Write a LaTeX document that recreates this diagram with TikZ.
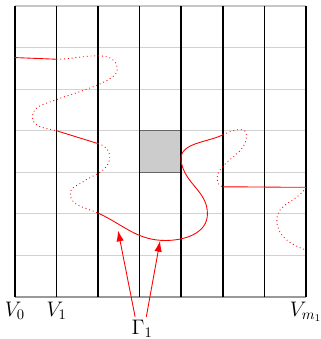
\documentclass[tikz,border=0pt]{standalone}
\usepackage{amsmath}
\usetikzlibrary{arrows.meta, positioning}
\tikzset{
    gridfig/.style={>={Latex[length=2.6mm, width=1.8mm]}, font=\Large},
    vline/.style={line width=1.1pt, black},
    hline/.style={gray!35, line width=0.6pt},
    obstacle/.style={fill=gray!40, draw=gray!80!black, line width=0.6pt},
    % visible and hidden parts of the curve
    seen/.style={red, line width=0.6pt},
    hidden/.style={red, dotted, line width=0.6pt},
    pointer/.style={->, red, line width=0.6pt},
}

\begin{document}
\begin{tikzpicture}[gridfig]
    \useasboundingbox (-0.36,-1.01) rectangle (7.35,7.145);

    % grid
    \foreach \y in {1,...,6}
        \draw[hline] (0,\y) -- (7,\y);
    \draw[gray!45, line width=0.8pt] (0,7) -- (7,7);
    \draw[gray!80, line width=0.8pt] (0,0) -- (7,0);
    \fill[obstacle] (3,3) rectangle (4,4);
    \foreach \x in {0,...,7}
        \draw[vline] (\x,0) -- (\x,7);

    % labels under the lines
    \node[below] (v0) at (0,0) {$V_0$};
    \node[below] (v1) at (1,0) {$V_1$};
    \node[below] (vm) at (7,0) {$V_{m_1}$};
    \node (gamma) at (3.06,-0.76) {$\Gamma_1$};

    % the curve
    \draw[seen] (0,5.76) -- (1,5.72);
    \draw[hidden] (1,5.72) to[out=0, in=90] (2.46,5.45)
        to[out=-95, in=22, looseness=0.45] (1.0,4.75)
        to[out=202, in=90] (0.42,4.33)
        to[out=-90, in=165] (1,4);
    \draw[seen] (1,4) -- (2,3.69);
    \draw[hidden] (2,3.69) to[out=-15, in=90] (2.28,3.38)
        to[out=-90, in=35] (1.6,2.75) to[out=215, in=90] (1.33,2.5)
        to[out=-90, in=155] (2,2.02);
    \draw[seen] (2,2.02) to[out=-25, in=180] (3.62,1.36)
        to[out=0, in=-90] (4.63,2.0) to[out=90, in=-80] (4.0,3.25)
        to[out=100, in=205] (5,3.9);
    \draw[hidden] (5,3.9) to[out=25, in=180] (5.45,4.03)
        to[out=0, in=90] (5.57,3.9) to[out=-90, in=60] (4.9,3.0)
        to[out=-120, in=180] (5,2.65);
    \draw[seen] (5,2.65) to[out=0, in=180] (7,2.64);
    \draw[hidden] (7,2.64) to[out=-120, in=90] (6.3,1.85)
        to[out=-90, in=160] (7,1.13);

    % pointers to the curve
    \coordinate (c1) at (2.48,1.6);
    \coordinate (c2) at (3.49,1.35);
    \draw[pointer] (gamma.north) ++(-0.17,-0.05) -- (c1);
    \draw[pointer] (gamma.north) ++(0.1,-0.05) -- (c2);
\end{tikzpicture}
\end{document}
